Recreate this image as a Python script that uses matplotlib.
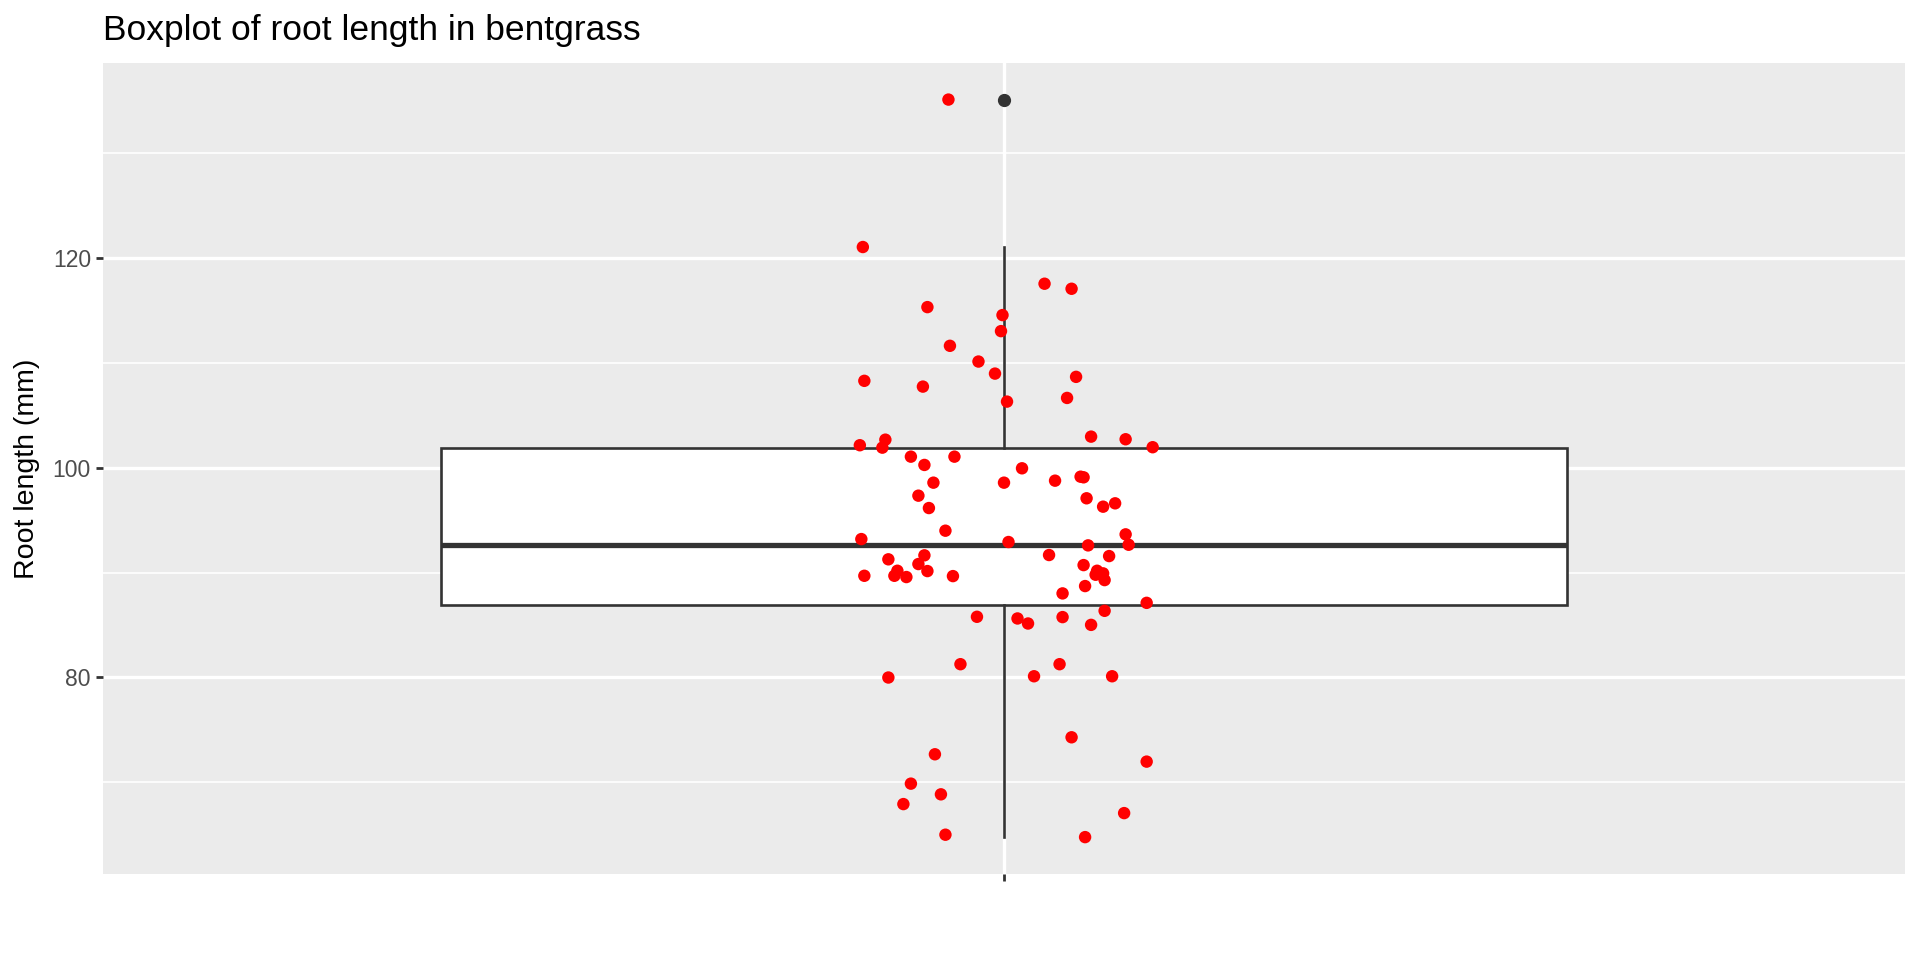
import matplotlib
matplotlib.use("Agg")
import matplotlib.pyplot as plt
from matplotlib.ticker import FixedLocator
import numpy as np

# ---- data ----
root_length = [
    135.1, 121.04, 117.54, 117.06, 115.31, 114.55, 113.02, 111.62, 110.12, 108.97,
    108.28, 108.66, 107.73, 106.65, 106.30, 102.96, 102.71, 102.67, 102.14, 101.91,
    101.95, 101.05, 101.05, 100.26, 99.94, 98.57, 98.57, 98.76, 99.14, 99.08,
    97.33, 97.08, 96.15, 96.28, 96.60, 93.99, 93.64, 92.65, 93.19, 92.91,
    92.59, 91.64, 91.26, 91.67, 91.57, 90.81, 90.71, 90.17, 90.14, 90.17,
    89.92, 89.69, 89.57, 89.69, 89.66, 89.79, 89.28, 88.71, 88.01, 87.11,
    86.35, 85.78, 85.62, 85.14, 85.75, 85.01, 81.26, 81.26, 79.99, 80.11,
    80.11, 74.29, 71.97, 72.67, 69.87, 68.85, 67.92, 67.06, 65.00, 64.77,
]
# horizontal jitter offsets of each red point (as seen in the picture)
jitter = [
    -0.037, -0.094, 0.027, 0.045, -0.051, -0.001, -0.002, -0.036, -0.017, -0.006,
    -0.093, 0.048, -0.054, 0.042, 0.002, 0.058, 0.081, -0.079, -0.096, -0.081,
    0.099, -0.062, -0.033, -0.053, 0.012, -0.047, 0.000, 0.034, 0.051, 0.053,
    -0.057, 0.055, -0.050, 0.066, 0.074, -0.039, 0.081, 0.083, -0.095, 0.003,
    0.056, -0.053, -0.077, 0.030, 0.070, -0.057, 0.053, -0.071, -0.051, 0.062,
    0.066, -0.073, -0.065, -0.093, -0.034, 0.061, 0.067, 0.054, 0.039, 0.095,
    0.067, -0.018, 0.009, 0.016, 0.039, 0.058, -0.029, 0.037, -0.077, 0.020,
    0.072, 0.045, 0.095, -0.046, -0.062, -0.042, -0.067, 0.080, -0.039, 0.054,
]
y_ticks = [80, 100, 120]
y_minor = [70, 90, 110, 130]
title = "Boxplot of root length in bentgrass"
ylabel = "Root length (mm)"

plt.rcParams['font.family'] = ['Liberation Sans', 'DejaVu Sans']

fig = plt.figure(figsize=(19.2, 9.6), dpi=100)
ax = fig.add_axes([103/1920, 1-874/960, (1905-103)/1920, (874-62.7)/960])
ax.set_facecolor('#EBEBEB')
for s in ax.spines.values():
    s.set_visible(False)

vals = np.array(root_length)
ax.boxplot(vals, positions=[1], widths=0.75, patch_artist=True, whis=1.5,
           boxprops=dict(facecolor='white', edgecolor='#333333', linewidth=1.9),
           medianprops=dict(color='#333333', linewidth=3.8),
           whiskerprops=dict(color='#333333', linewidth=1.9),
           capprops=dict(linewidth=0),
           flierprops=dict(marker='o', markerfacecolor='#333333', markeredgecolor='#333333',
                           markersize=8.5),
           zorder=2)

xs = 1 + np.array(jitter)
ax.scatter(xs, vals, s=80, color='red', edgecolors='none', zorder=3)

lo, hi = vals.min(), vals.max()
pad = 0.05 * (hi - lo)
ax.set_ylim(lo - pad, hi + pad)
ax.set_xlim(0.4, 1.6)

ax.yaxis.set_major_locator(FixedLocator(y_ticks))
ax.yaxis.set_minor_locator(FixedLocator(y_minor))
ax.set_yticklabels([str(t) for t in y_ticks])
ax.set_xticks([1])
ax.set_xticklabels([''])

ax.grid(which='major', axis='both', color='white', linewidth=2.4, zorder=0)
ax.grid(which='minor', axis='y', color='white', linewidth=1.2, zorder=0)
ax.set_axisbelow(True)

ax.tick_params(axis='both', which='major', length=4.7, width=2.0, color='#333333',
               labelcolor='#4D4D4D', labelsize=16.5, pad=4)
ax.tick_params(axis='y', which='minor', length=0)

ax.set_ylabel(ylabel, fontsize=20.5, color='black', labelpad=9)
fig.text(103/1920, 1-40/960, title, fontsize=25.5, ha='left', va='baseline', color='black')

fig.savefig('out.png', dpi=100, facecolor='white')
